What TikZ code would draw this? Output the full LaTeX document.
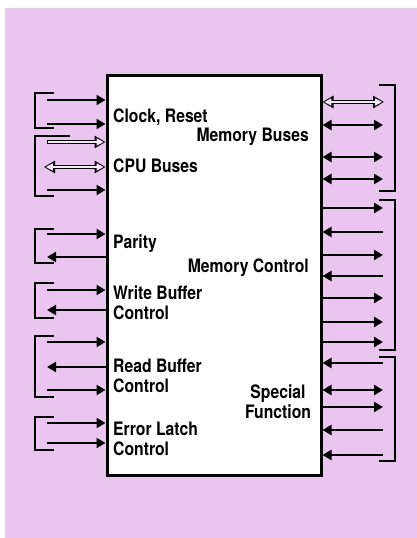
\documentclass[tikz,border=0pt]{standalone}
\usepackage{fontspec}
\setmainfont{TeX Gyre Heros}[FakeStretch=0.85]
\usetikzlibrary{arrows.meta,calc}
\definecolor{bgpink}{RGB}{233,197,240}
\definecolor{openfill}{RGB}{246,232,248}
\tikzset{
  sig/.style={line width=2.8pt, line cap=butt},
  tipE/.style={sig, -{Triangle[length=9pt,width=10pt]}},
  tipS/.style={sig, {Triangle[length=9pt,width=10pt]}-},
  tipB/.style={sig, {Triangle[length=9pt,width=10pt]}-{Triangle[length=9pt,width=10pt]}},
  openout/.style={line width=4.2pt, -{Triangle[length=11pt,width=12pt]}},
  openin/.style={line width=1.4pt, draw=openfill, shorten >=1.8pt, shorten <=1pt, -{Triangle[length=7pt,width=7pt]}},
  openoutB/.style={line width=4.2pt, {Triangle[length=11pt,width=12pt]}-{Triangle[length=11pt,width=12pt]}},
  openinB/.style={line width=1.4pt, draw=openfill, shorten >=1.8pt, shorten <=1.8pt, {Triangle[length=7pt,width=7pt]}-{Triangle[length=7pt,width=7pt]}},
  brk/.style={line width=2.4pt, line join=miter},
  lbl/.style={inner sep=0pt, font=\fontsize{18.5}{20}\selectfont\bfseries},
  chip/.style={draw, line width=3pt, fill=white, inner sep=0pt}
}
\begin{document}
\begin{tikzpicture}[x=1pt,y=-1pt]
\useasboundingbox (0,0) rectangle (417,538);
\fill[white] (0,0) rectangle (417,538);
\fill[bgpink] (5,8) rectangle (417,538);

\node[chip, minimum width=214pt, minimum height=400pt] (box) at (214,275) {};

% left side arrows
\foreach \y/\s in {100/tipE,124/tipE,190/tipE,234/tipE,257/tipS,290/tipE,310/tipS,342/tipE,367/tipS,390/tipE,423/tipE,443/tipE}{
  \coordinate (L\y) at (47,\y);
  \draw[\s] (L\y) -- (L\y -| box.west);
}
% left open arrows
\coordinate (Lo1) at (47,142);
\draw[openout] (Lo1) -- (Lo1 -| box.west);
\draw[openin] (Lo1) -- (Lo1 -| box.west);
\coordinate (Lo2) at (44,167);
\draw[openoutB] (Lo2) -- (Lo2 -| box.west);
\draw[openinB] (Lo2) -- (Lo2 -| box.west);

% right side arrows
\foreach \y/\s in {125/tipB,157/tipB,179/tipB,208/tipE,232/tipS,255/tipE,276/tipS,298/tipE,322/tipE,342/tipE,363/tipS,390/tipB,407/tipE,430/tipS,455/tipS}{
  \coordinate (R\y) at (383,\y);
  \draw[\s] (R\y -| box.east) -- (R\y);
}
\coordinate (Ro1) at (384,102);
\draw[openoutB] (Ro1 -| box.east) -- (Ro1);
\draw[openinB] (Ro1 -| box.east) -- (Ro1);

% left brackets
\foreach \a/\b in {93/128,229/263,283/318,336/397,417/450}{
  \draw[brk] (54,\a) -- (35,\a) -- (35,\b) -- (54,\b);
}
\draw[brk] (70,136) -- (35,136) -- (35,196) -- (54,196);
% right brackets
\foreach \a/\b in {85/191,200/350,357/461}{
  \draw[brk] (379,\a) -- (395,\a) -- (395,\b) -- (379,\b);
}

% labels
\node[lbl, anchor=base west] (t1) at (113,122) {Clock, Reset};
\node[lbl, anchor=base east] (t2) at (309,141) {Memory Buses};
\node[lbl, anchor=base west] (t3) at (113,172) {CPU Buses};
\node[lbl, anchor=base west] (t4) at (113,248) {Parity};
\node[lbl, anchor=base east] (t5) at (309,272) {Memory Control};
\node[lbl, anchor=base west, align=left] (t6) at (113,319) {Write Buffer\\Control};
\node[lbl, anchor=base west, align=left] (t7) at (113,392) {Read Buffer\\Control};
\node[lbl, anchor=base west, align=left] (t8) at (113,455) {Error Latch\\Control};
\node[lbl, anchor=base, align=center] (t9) at (278,418) {Special\\Function};
\end{tikzpicture}
\end{document}
